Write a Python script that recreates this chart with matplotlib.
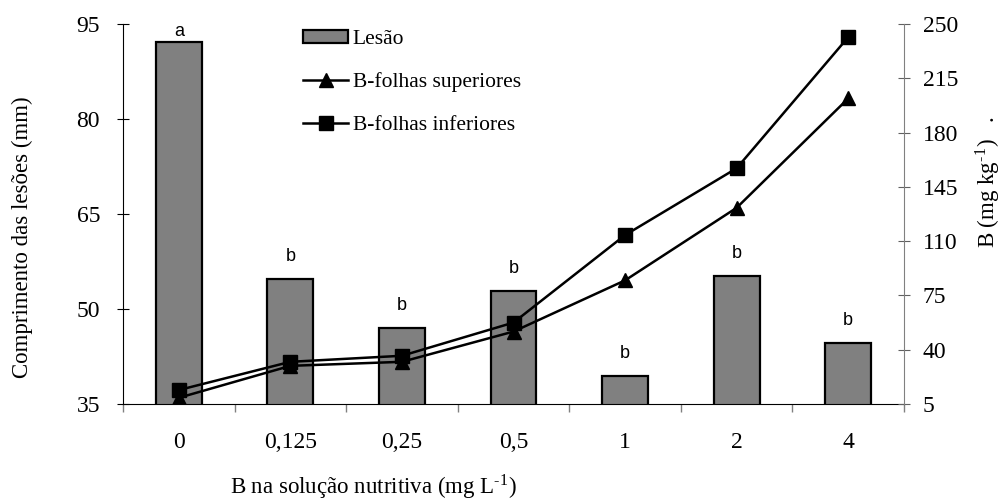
import numpy as np
import matplotlib.pyplot as plt
from matplotlib.patches import Patch
from matplotlib.lines import Line2D

plt.rcParams['font.family'] = ['Liberation Serif', 'DejaVu Serif']
plt.rcParams['mathtext.fontset'] = 'stix'

# dados
doses = ['0', '0,125', '0,25', '0,5', '1', '2', '4']
lesao = [92.2, 54.7, 47.0, 52.8, 39.4, 55.2, 44.6]      # mm, eixo esquerdo
letras = ['a', 'b', 'b', 'b', 'b', 'b', 'b']
b_sup = [9, 29.6, 32.2, 51.7, 84.7, 131.5, 202]          # mg/kg, eixo direito
b_inf = [14, 32.2, 36.1, 57.5, 113.9, 157.0, 241.5]

fig = plt.figure(figsize=(10.02, 5.0), dpi=100)
ax = fig.add_axes([123/1002, 96/500, 781/1002, 380/500])
x = np.arange(len(doses))

ax.bar(x, lesao, width=0.41, color='#808080', edgecolor='black', linewidth=1.6, zorder=2)
desloc = {'a': 1, 'b': 10}
for i, (v, l) in enumerate(zip(lesao, letras)):
    ax.annotate(l, (i, v), xytext=(0, desloc[l]), textcoords='offset points',
                ha='center', va='bottom', fontsize=13, family='Liberation Sans')

ax.set_xlim(-0.5, 6.5)
ax.set_ylim(35, 95)
ax.set_yticks(np.arange(35, 96, 15))
ax.set_xticks(x)
ax.set_xticklabels(doses)
ax.set_xticks(np.arange(-0.5, 7, 1), minor=True)
ax.tick_params(axis='x', which='major', length=0, pad=20, labelsize=17)
ax.tick_params(axis='x', which='minor', direction='out', length=6, color='#808080', width=1)
ax.tick_params(axis='y', direction='inout', length=9, width=0.8, pad=12, labelsize=17)
ax.spines['top'].set_visible(False)
ax.spines['right'].set_visible(False)

ax2 = ax.twinx()
ax2.plot(x, b_sup, color='black', lw=1.8, marker='^', ms=9.5, zorder=3)
ax2.plot(x, b_inf, color='black', lw=1.8, marker='s', ms=9.5, zorder=3)
ax2.set_ylim(5, 250)
ax2.set_yticks(np.arange(5, 251, 35))
ax2.tick_params(axis='y', direction='inout', length=9, width=0.8, pad=9, labelsize=17,
                color='#606060')
for s in ['top', 'left', 'bottom']:
    ax2.spines[s].set_visible(False)
ax2.spines['right'].set_color('#808080')

fig.text(22/1002, 1 - 237/500, 'Comprimento das lesões (mm)', rotation=90,
         ha='center', va='center', fontsize=16.5)
fig.text(988/1002, 1 - 182/500, 'B (mg kg$^{\\mathregular{\u2010}\\mathregular{1}}$)   .', rotation=90,
         ha='center', va='center', fontsize=16.5)
fig.text(373/1002, 1 - 487/500, 'B na solução nutritiva (mg L$^{\\mathregular{\u2010}\\mathregular{1}}$)',
         ha='center', va='center', fontsize=16.5)

handles = [Patch(facecolor='#808080', edgecolor='black', lw=1.6),
           Line2D([], [], color='black', lw=1.8, marker='^', ms=9.5),
           Line2D([], [], color='black', lw=1.8, marker='s', ms=9.5)]
fig.legend(handles, ['Lesão', 'B-folhas superiores', 'B-folhas inferiores'],
           loc='upper left', bbox_to_anchor=(303/1002, 1 - 30/500), frameon=False,
           fontsize=15.5, handlelength=2.1, handleheight=0.55, handletextpad=0.2,
           labelspacing=1.08, borderpad=0, borderaxespad=0)

fig.savefig('out.png', dpi=100)
